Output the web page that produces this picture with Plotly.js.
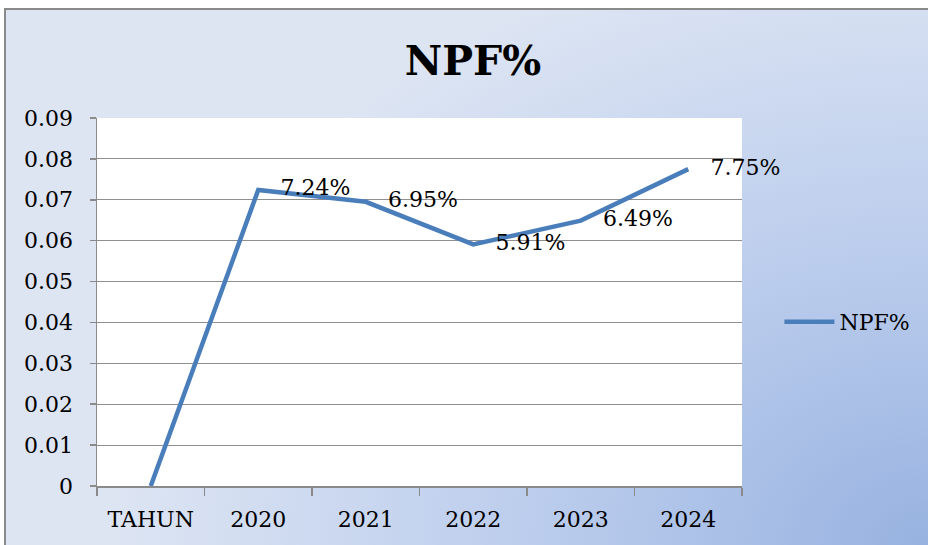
<!DOCTYPE html>
<html>
<head>
<meta charset="utf-8">
<script src="https://cdn.plot.ly/plotly-3.0.1.min.js"></script>
<style>
  html, body { margin: 0; padding: 0; background: #ffffff; }
  #bg {
    position: absolute; left: 4px; top: 8px; width: 924px; height: 537px;
    border-left: 2px solid #8a8a8a; border-top: 2px solid #8a8a8a;
    background: radial-gradient(820px 620px at 100% 100%, #97B2E0 0%, #B9CBEC 45%, #DDE5F3 100%);
  }
  #chart { position: absolute; left: 0; top: 0; width: 928px; height: 545px; }
</style>
</head>
<body>
<div id="bg"></div>
<div id="chart"></div>
<script>
const categories = ['TAHUN', '2020', '2021', '2022', '2023', '2024'];
const npfValues = [0, 0.0724, 0.0695, 0.0591, 0.0649, 0.0775];
const npfLabels = ['', '7.24%', '6.95%', '5.91%', '6.49%', '7.75%'];
const yTicks = [0, 0.01, 0.02, 0.03, 0.04, 0.05, 0.06, 0.07, 0.08, 0.09];
const yTickText = ['0', '0.01', '0.02', '0.03', '0.04', '0.05', '0.06', '0.07', '0.08', '0.09'];

const font = 'DejaVu Serif, Cambria, serif';

const trace = {
  x: categories,
  y: npfValues,
  text: npfLabels,
  type: 'scatter',
  mode: 'lines+markers+text',
  name: 'NPF%',
  textposition: 'middle right',
  textfont: { family: font, size: 22, color: '#000000' },
  line: { color: '#4A7EBB', width: 4.5 },
  marker: { size: 34, color: 'rgba(0,0,0,0)', line: { width: 0 } },
  cliponaxis: false,
  hoverinfo: 'skip'
};

const layout = {
  width: 928, height: 545,
  margin: { l: 97, r: 186, t: 118, b: 59 },
  paper_bgcolor: 'rgba(0,0,0,0)',
  plot_bgcolor: '#ffffff',
  font: { family: font, size: 22, color: '#000000' },
  title: {
    text: '<b>NPF%</b>',
    font: { family: font, size: 41, color: '#000000' },
    x: 473 / 928, xanchor: 'center', xref: 'container',
    y: 1 - 61 / 545, yanchor: 'middle', yref: 'container'
  },
  xaxis: {
    type: 'category',
    range: [-0.5, 5.5],
    tickson: 'boundaries',
    ticks: 'outside', ticklen: 8, tickcolor: '#8a8a8a', tickwidth: 1.5,
    showline: true, linecolor: '#8a8a8a', linewidth: 1.5,
    showgrid: false, zeroline: false,
    tickfont: { family: font, size: 22, color: '#000000' },
    ticklabelstandoff: 13,
    fixedrange: true
  },
  yaxis: {
    range: [0, 0.09],
    tickvals: yTicks, ticktext: yTickText,
    ticks: 'outside', ticklen: 6, tickcolor: '#8a8a8a', tickwidth: 1.5,
    showline: true, linecolor: '#8a8a8a', linewidth: 1.5,
    showgrid: true, gridcolor: '#8f8f8f', gridwidth: 1.2,
    zeroline: false,
    tickfont: { family: font, size: 22, color: '#000000' },
    ticklabelstandoff: 12,
    fixedrange: true
  },
  showlegend: true,
  legend: {
    x: 1.058, xanchor: 'left', xref: 'paper',
    y: 0.4457, yanchor: 'middle',
    itemwidth: 50,
    bgcolor: 'rgba(0,0,0,0)',
    font: { family: font, size: 22, color: '#000000' }
  }
};

Plotly.newPlot('chart', [trace], layout, { displayModeBar: false, staticPlot: true });
</script>
</body>
</html>
